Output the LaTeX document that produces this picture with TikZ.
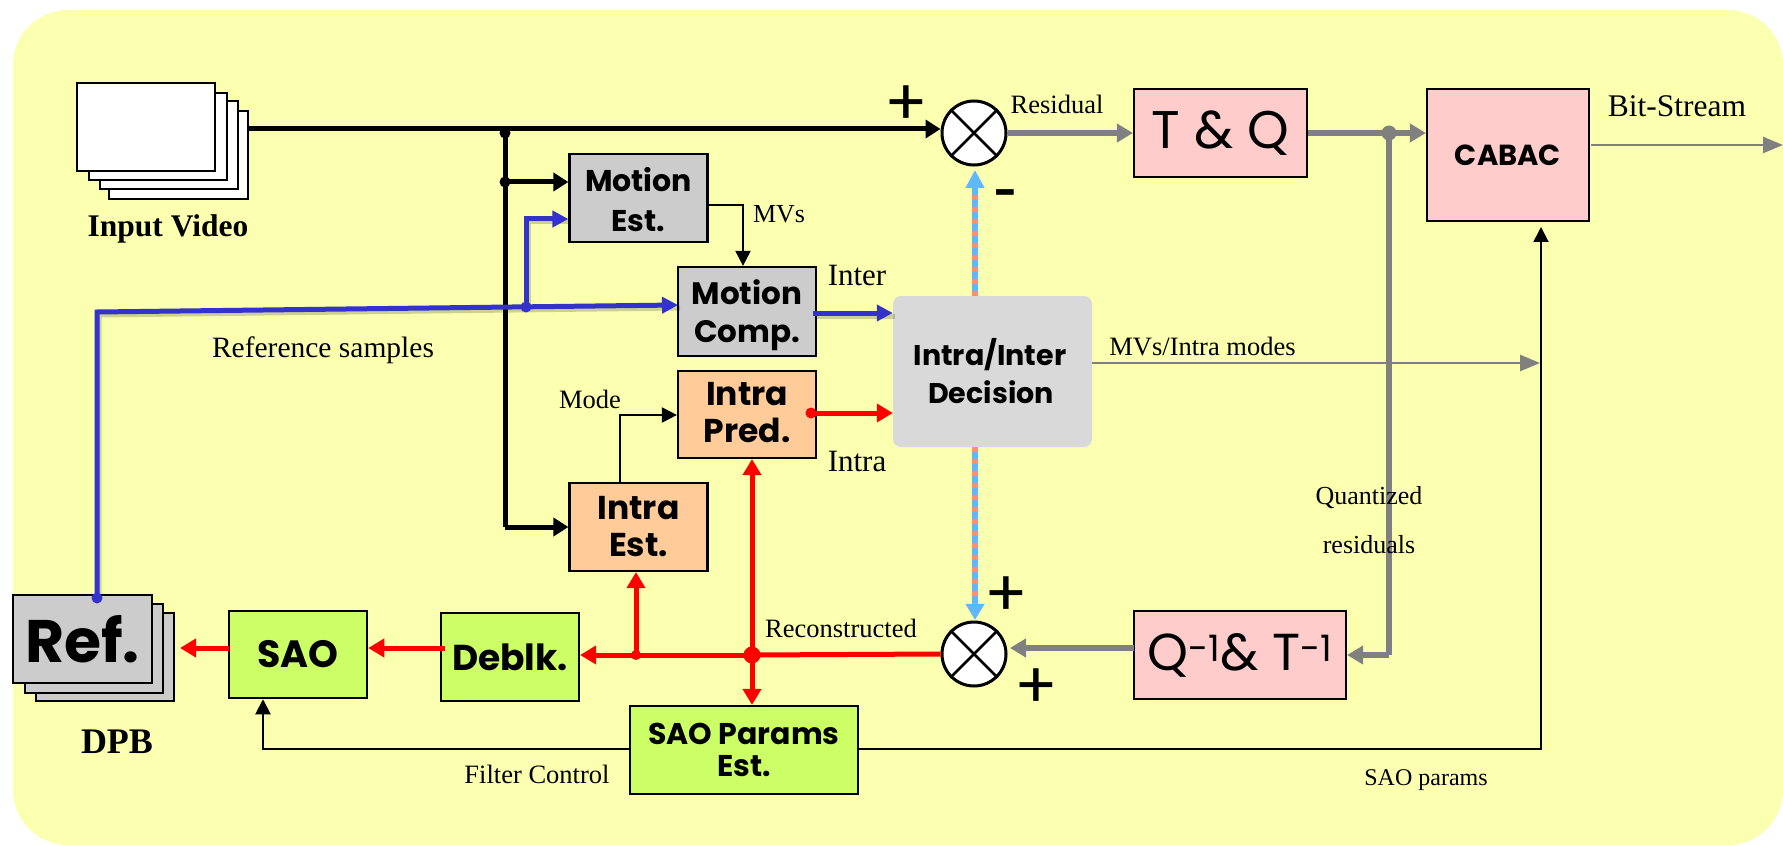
\documentclass[tikz,border=0pt]{standalone}
\usepackage{fontspec}
\setmainfont{Liberation Serif}
\newfontfamily\geo{Poppins}
\usetikzlibrary{arrows.meta}
\definecolor{bgy}{HTML}{FBFFB0}
\definecolor{pinkb}{HTML}{FFCCCC}
\definecolor{greenb}{HTML}{CCFF66}
\definecolor{orangeb}{HTML}{FFCC99}
\definecolor{grayb}{HTML}{CCCCCC}
\definecolor{decb}{HTML}{D9D9D9}
\definecolor{blueln}{HTML}{3333CC}
\definecolor{greyln}{HTML}{808080}
\definecolor{stripea}{HTML}{5FB8FF}
\definecolor{stripeb}{HTML}{FF8C7C}
\newcommand{\fsz}[1]{\fontsize{#1}{#1}\selectfont}
\newcommand{\lowr}[2]{\raisebox{-#1}[\height][\depth]{#2}}
\tikzset{
  x=1pt,y=-1pt,
  bx/.style={draw=black,line width=2.2pt,inner sep=0pt,align=center,font=\geo\bfseries\fontsize{30}{40}\selectfont},
  pg/.style={draw=black,line width=2pt,inner sep=0pt,fill=white},
  lbl/.style={inner sep=0pt,text=black,font=\fsz{26.5}},
  blk/.style={draw=black,fill=black,line width=5pt,-{Triangle[length=15pt,width=18pt]}},
  thin arrow/.style={draw=black,line width=2pt,-{Triangle[length=15pt,width=15pt]}},
  redl/.style={draw=red,line width=5pt,-{Triangle[length=16pt,width=18pt]}},
  bluel/.style={draw=blueln,line width=5pt,-{Triangle[length=16pt,width=16pt]}},
  shd/.style={draw=black,opacity=.18,line width=5pt,transform canvas={shift={(2pt,-3pt)}}},
  grayl/.style={draw=greyln,line width=6pt,-{Triangle[length=16pt,width=18pt]}},
  graythin/.style={draw=greyln,line width=2.5pt,-{Triangle[length=20pt,width=16pt]}},
  sumc/.style={circle,draw=black,line width=3pt,fill=white,minimum size=64pt,inner sep=0pt},
  plusn/.style={inner sep=0pt,minimum size=0pt},
  dot/.style={circle,fill=#1,inner sep=0pt,minimum size=11pt},
}
\begin{document}
\begin{tikzpicture}
\useasboundingbox (0,0) rectangle (1783,845);
\fill[bgy,rounded corners=55pt] (13,10) rectangle (1783,845);

% input stack
\node[pg,minimum width=139pt,minimum height=88pt] (in4) at (178.5,155) {};
\node[pg,minimum width=138pt,minimum height=88pt] (in3) at (169,145) {};
\node[pg,minimum width=138pt,minimum height=87pt] (in2) at (158,136.5) {};
\node[pg,minimum width=138pt,minimum height=88pt] (in1) at (146,127) {};
\node[inner sep=0pt,font=\bfseries\fsz{31.5}] (inlab) at (168,229) {Input Video};

% boxes
\node[bx,fill=grayb,minimum width=138pt,minimum height=88pt] (me) at (638.5,198) {\lowr{2pt}{Motion}\\\lowr{2pt}{Est.}};
\node[bx,fill=grayb,minimum width=138pt,minimum height=89pt,font=\geo\bfseries\fontsize{31}{38}\selectfont] (mc) at (747,311.5) {\lowr{4pt}{Motion}\\\lowr{4pt}{Comp.}};
\node[bx,fill=orangeb,minimum width=138pt,minimum height=87pt,font=\geo\bfseries\fontsize{33}{37}\selectfont] (ip) at (747,414.5) {\raisebox{1.5pt}[\height][\depth]{Intra}\\\raisebox{1.5pt}[\height][\depth]{Pred.}};
\node[bx,fill=orangeb,minimum width=138pt,minimum height=88pt,font=\geo\bfseries\fontsize{33}{37}\selectfont] (ie) at (638.5,527) {Intra\\Est.};
\node[draw=none,fill=decb,rounded corners=8pt,minimum width=199pt,minimum height=151pt,inner sep=0pt,align=center,font=\geo\bfseries\fontsize{28.5}{38}\selectfont] (dec) at (992.5,371.5) {Intra/Inter\hspace*{5pt}\\Decision\hspace*{3pt}};
\node[bx,fill=pinkb,minimum width=173pt,minimum height=88pt,font=\geo\fsz{53}] (tq) at (1220.5,133) {T \& Q};
\node[bx,fill=pinkb,minimum width=162pt,minimum height=132pt,font=\geo\bfseries\fsz{29}] (cabac) at (1508,155) {CABAC};
\node[bx,fill=pinkb,minimum width=212pt,minimum height=88pt,font=\geo\fsz{52}] (qt) at (1240,655) {Q\textsuperscript{-1}\& T\textsuperscript{-1}};
\node[bx,fill=greenb,minimum width=138pt,minimum height=87pt,line width=2.5pt,font=\geo\bfseries\fsz{38}] (sao) at (298,654.5) {SAO};
\node[bx,fill=greenb,minimum width=138pt,minimum height=88pt,font=\geo\bfseries\fsz{36}] (db) at (510,657) {Deblk.};
\node[bx,fill=greenb,minimum width=228pt,minimum height=88pt,font=\geo\bfseries\fontsize{30}{32}\selectfont] (sp) at (744,750) {SAO Params\\Est.};

% ref stack
\node[pg,fill=grayb,minimum width=138pt,minimum height=88pt] (r3) at (105,657) {};
\node[pg,fill=grayb,minimum width=138pt,minimum height=89pt] (r2) at (94,648.5) {};
\node[pg,fill=grayb,minimum width=139pt,minimum height=88pt,inner sep=0pt,font=\geo\bfseries\fsz{60}] (r1) at (82.5,639) {Ref.};
\node[inner sep=0pt,font=\bfseries\fsz{36}] (dpb) at (117,742) {DPB};

% summing junctions
\node[sumc] (c1) at (974,133) {};
\node[sumc] (c2) at (974,654) {};
\foreach \c in {c1,c2} {
  \draw[line width=2.5pt] (\c.45) -- (\c.225);
  \draw[line width=2.5pt] (\c.135) -- (\c.315);
}

% helper coordinates
\coordinate (j1) at (505,129);
\coordinate (j2) at (505,182);
\coordinate (j3) at (505,527);
\coordinate (b0) at (97,598);
\coordinate (b1) at (97,312);
\coordinate (b2) at (526,307);
\coordinate (b3) at (526,219);
\coordinate (b4) at (678,305);
\coordinate (r0) at (752,655);
\coordinate (r9) at (636,655);
\coordinate (g0) at (1389,133);
\coordinate (g1) at (1389,655);
\coordinate (m0) at (1540,363);
\coordinate (s1) at (263,749);
\coordinate (s2) at (1541,749);

% black thick
\draw[line width=5pt] (in4.east |- j1) -- (j1);
\draw[blk] (j1) -- (c1.west |- j1);
\draw[line width=5pt] (j1) -- (j3);
\draw[blk] (j2) -- (me.west |- j2);
\draw[blk] (j3) -- (ie.west |- j3);
\node[dot=black] (jd1) at (505,133) {};
\node[dot=black] (jd2) at (j2) {};

% blue
\draw[shd] (b0) -- (b1) -- (b4);
\draw[shd] (b2) -- (b3) -- (me.west |- b3);
\draw[bluel] (b0) -- (b1) -- (b4);
\draw[bluel] (b2) -- (b3) -- (me.west |- b3);
\node[dot=blueln] (bd1) at (b0) {};
\node[dot=blueln] (bd2) at (b2) {};
\coordinate (b5) at (813,313);
\draw[shd] (b5) -- (dec.west |- b5);
\draw[bluel] (b5) -- (dec.west |- b5);

% thin black
\coordinate (t1) at (707,205);
\coordinate (t2) at (743,205);
\draw[thin arrow] (t1) -- (t2) -- (t2 |- mc.north);
\coordinate (t3) at (620,415);
\draw[thin arrow] (t3 |- ie.north) -- (t3) -- (ip.west |- t3);
\draw[thin arrow] (sp.west |- s1) -- (s1) -- (s1 |- sao.south);
\draw[thin arrow] (sp.east |- s2) -- (s2) -- (1541,227);

% red
\coordinate (r5) at (811,413);
\draw[redl] (r5) -- (dec.west |- r5);
\node[dot=red] (rd5) at (r5) {};
\draw[draw=red,line width=5pt] (c2.west) -- (r0);
\draw[redl] (r0) -- (db.east |- r0);
\draw[redl] (r9) -- (r9 |- ie.south);
\draw[redl,{Triangle[length=16pt,width=18pt]}-{Triangle[length=16pt,width=18pt]}] (r0 |- ip.south) -- (r0 |- sp.north);
\node[circle,fill=red,inner sep=0pt,minimum size=17pt] (rd0) at (r0) {};
\node[dot=red,minimum size=10pt] (rd9) at (r9) {};
\coordinate (r7) at (445,648);
\draw[redl] (r7) -- (sao.east |- r7);
\coordinate (r8) at (229,648);
\draw[redl] (r8) -- (180,648);

% gray
\draw[grayl] (c1.east) -- (tq.west);
\draw[grayl] (tq.east) -- (cabac.west |- tq.east);
\draw[draw=greyln,line width=6pt] (g0) -- (g1);
\draw[grayl] (g1) -- (qt.east |- g1);
\node[circle,fill=greyln,inner sep=0pt,minimum size=15pt] (gd) at (g0) {};
\coordinate (g2) at (1134,648);
\draw[grayl] (g2) -- (1010,648);
\coordinate (g3) at (1591,145);
\draw[graythin] (g3) -- (1783,145);
\draw[graythin] (dec.east |- m0) -- (m0);

% striped lines
\coordinate (v1) at (975,170);
\coordinate (v2) at (975,620);
\draw[stripea,line width=6pt,-{Triangle[length=18pt,width=18pt]}] (dec.north -| v1) -- (v1);
\draw[stripeb,line width=6pt,dash pattern=on 5pt off 7pt] (dec.north -| v1) -- (975,188);
\draw[stripea,line width=6pt,-{Triangle[length=16pt,width=18pt]}] (dec.south -| v2) -- (v2);
\draw[stripeb,line width=6pt,dash pattern=on 5pt off 7pt] (dec.south -| v2) -- (975,604);

% plus and minus signs
\node[plusn,font=\geo\fsz{64}] (p1) at (906,106) {+};
\node[plusn,font=\geo\bfseries\fsz{40}] (p4) at (1006,198) {-};
\node[plusn,font=\geo\fsz{64}] (p2) at (1006,597) {+};
\node[plusn,font=\geo\fsz{64}] (p3) at (1036,689) {+};

% labels
\node[lbl] (lres) at (1057,104) {Residual};
\node[lbl,font=\fsz{31.5}] (lbit) at (1677,106) {Bit-Stream};
\node[lbl] (lmvm) at (1202.5,347) {MVs/Intra modes};
\node[lbl,font=\fsz{26}] (lmv) at (779,214) {MVs};
\node[lbl,font=\fsz{31}] (linter) at (857,276) {Inter};
\node[lbl,font=\fsz{31}] (lintra) at (857,461) {Intra};
\node[lbl,font=\fsz{29.5}] (lref) at (323,350) {Reference samples};
\node[lbl] (lmode) at (590,399) {Mode};
\node[lbl] (lrec) at (841,628) {Reconstructed};
\node[lbl,font=\fsz{26}] (lq1) at (1369,498) {Quantized};
\node[lbl,font=\fsz{26}] (lq2) at (1369,545) {residuals};
\node[lbl] (lfc) at (537,774) {Filter Control};
\node[lbl,font=\fsz{24}] (lsp) at (1426,780) {SAO params};
\end{tikzpicture}
\end{document}
